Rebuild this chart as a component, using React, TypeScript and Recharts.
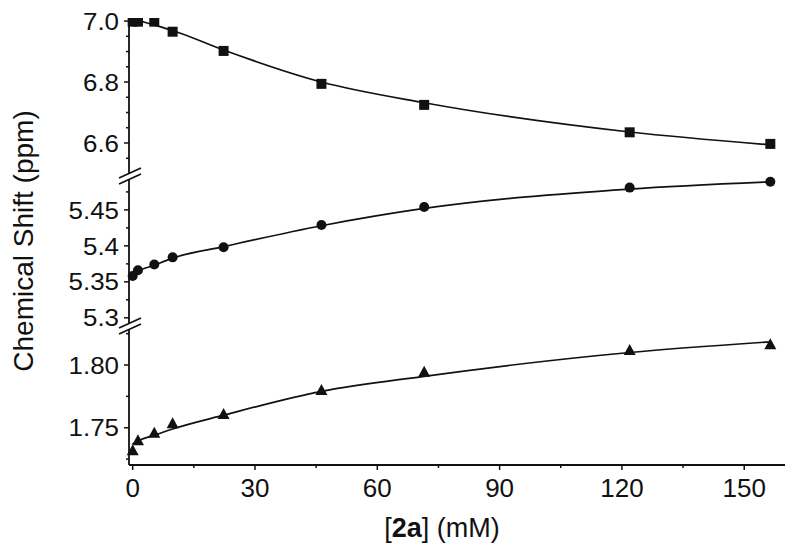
import React from 'react';
import { ComposedChart, Line, Scatter, XAxis, YAxis } from 'recharts';

// [2a] concentrations (mM)
const concentration = [0, 1.3, 5.3, 9.8, 22.3, 46.3, 71.5, 121.9, 156.4];

// observed shifts (ppm) and fitted curve read at the same concentrations
const shiftSquare = [6.998, 6.998, 6.998, 6.965, 6.902, 6.794, 6.725, 6.635, 6.597];
const fitSquare = [7.007, 7.002, 6.987, 6.969, 6.905, 6.8, 6.732, 6.636, 6.594];
const shiftCircle = [5.358, 5.366, 5.374, 5.384, 5.398, 5.429, 5.454, 5.481, 5.489];
const fitCircle = [5.356, 5.364, 5.373, 5.383, 5.399, 5.428, 5.452, 5.479, 5.489];
const shiftTriangle = [1.732, 1.74, 1.746, 1.7535, 1.761, 1.78, 1.7947, 1.812, 1.8165];
const fitTriangle = [1.737, 1.7395, 1.744, 1.749, 1.76, 1.779, 1.791, 1.81, 1.8185];

// ticks
const xTickLabels = ['0', '30', '60', '90', '120', '150'];
const xMinorTicks = [15, 45, 75, 105, 135];
const topTickLabels = ['6.6', '6.8', '7.0'];
const topMinorTicks = [6.55, 6.65, 6.7, 6.75, 6.85, 6.9, 6.95];
const midTickLabels = ['5.3', '5.35', '5.4', '5.45'];
const midMinorTicks = [5.325, 5.375, 5.425, 5.475];
const lowTickLabels = ['1.75', '1.80'];
const lowMinorTicks = [1.725, 1.775, 1.825];

const FONT = '"Liberation Sans", Arial, Helvetica, sans-serif';
const INK = '#111';
const X_DOMAIN: [number, number] = [-0.9, 160];
const PLOT_LEFT = 129;
const W = 798;

const toPoints = (ys: number[]) => concentration.map((x, i) => ({ x, y: ys[i] }));

const findLabel = (labels: string[], v: number) =>
  labels.find((l) => Math.abs(Number(l) - v) < 1e-9);

const YTick = (props: any) => {
  const { x, y, payload, labels } = props;
  const label = findLabel(labels, payload.value);
  return (
    <g>
      <line x1={x - (label ? 5 : 3)} x2={x} y1={y} y2={y} stroke={INK} strokeWidth={1.5} />
      {label && (
        <g transform={`translate(${x - 10},${y}) scale(1.08,1)`}>
          <text textAnchor="end" dy="0.36em" fontSize={24} fontFamily={FONT} fill={INK}>
            {label}
          </text>
        </g>
      )}
    </g>
  );
};

const XTick = (props: any) => {
  const { x, y, payload } = props;
  const label = findLabel(xTickLabels, payload.value);
  return (
    <g>
      <line x1={x} x2={x} y1={y} y2={y + (label ? 5 : 3)} stroke={INK} strokeWidth={1.5} />
      {label && (
        <text x={x} y={y + 31.5} textAnchor="middle" fontSize={26} fontFamily={FONT} fill={INK}>
          {label}
        </text>
      )}
    </g>
  );
};

const Square = (p: any) => <rect x={p.cx - 5} y={p.cy - 5} width={10} height={10} fill={INK} />;
const Dot = (p: any) => <circle cx={p.cx} cy={p.cy} r={5} fill={INK} />;
const Tri = (p: any) => (
  <polygon points={`${p.cx - 6},${p.cy + 5} ${p.cx + 6},${p.cy + 5} ${p.cx},${p.cy - 6}`} fill={INK} />
);

const XLabel = (props: any) => {
  const vb = props.viewBox || {};
  return (
    <text x={vb.x + vb.width / 2 - 15} y={vb.y + 72} textAnchor="middle" fontSize={27} fontFamily={FONT} fill={INK}>
      [<tspan fontWeight="bold">2a</tspan>] (mM)
    </text>
  );
};

interface PanelProps {
  height: number;
  margin: { top: number; bottom: number };
  domain: [number, number];
  labels: string[];
  minor: number[];
  points: { x: number; y: number }[];
  fit: { x: number; y: number }[];
  shape: any;
  showX?: boolean;
}

const Panel: React.FC<PanelProps> = ({ height, margin, domain, labels, minor, points, fit, shape, showX }) => (
  <div style={{ width: W, height }}>
    <ComposedChart width={W} height={height} margin={{ top: margin.top, bottom: margin.bottom, left: 0, right: 13 }}>
      {showX ? (
        <XAxis
          type="number"
          dataKey="x"
          domain={X_DOMAIN}
          ticks={[...xTickLabels.map(Number), ...xMinorTicks]}
          interval={0}
          tickSize={0}
          tickMargin={0}
          tickLine={false}
          tick={<XTick />}
          axisLine={{ stroke: INK, strokeWidth: 1.8 }}
          height={60}
          label={XLabel}
        />
      ) : (
        <XAxis type="number" dataKey="x" domain={X_DOMAIN} hide />
      )}
      <YAxis
        type="number"
        dataKey="y"
        domain={domain}
        allowDataOverflow
        ticks={[...labels.map(Number), ...minor]}
        interval={0}
        tickSize={0}
        tickMargin={0}
        tickLine={false}
        tick={<YTick labels={labels} />}
        axisLine={{ stroke: INK, strokeWidth: 1.8 }}
        width={PLOT_LEFT}
      />
      <Line data={fit} dataKey="y" type="monotone" stroke={INK} strokeWidth={1.7} dot={false} isAnimationActive={false} />
      <Scatter data={points} dataKey="y" shape={shape} isAnimationActive={false} />
    </ComposedChart>
  </div>
);

const TOP_H = 175;
const MID_H = 150;
const LOW_H = 229;

const BreakMark = ({ cx, cy }: { cx: number; cy: number }) => (
  <g>
    <polygon
      points={`${cx - 11},${cy + 2} ${cx + 11},${cy - 8} ${cx + 11},${cy - 2} ${cx - 11},${cy + 8}`}
      fill="#fff"
    />
    <line x1={cx - 11} y1={cy + 2} x2={cx + 11} y2={cy - 8} stroke={INK} strokeWidth={1.8} />
    <line x1={cx - 11} y1={cy + 8} x2={cx + 11} y2={cy - 2} stroke={INK} strokeWidth={1.8} />
  </g>
);

export default function App() {
  return (
    <div style={{ position: 'absolute', left: 0, top: 0, width: W, height: 554, background: '#fff' }}>
      <style>{'.recharts-surface{overflow:visible}'}</style>
      <Panel
        height={TOP_H}
        margin={{ top: 18, bottom: 0 }}
        domain={[6.495, 7.01]}
        labels={topTickLabels}
        minor={topMinorTicks}
        points={toPoints(shiftSquare)}
        fit={toPoints(fitSquare)}
        shape={Square}
      />
      <Panel
        height={MID_H}
        margin={{ top: 0, bottom: 0 }}
        domain={[5.29, 5.4985]}
        labels={midTickLabels}
        minor={midMinorTicks}
        points={toPoints(shiftCircle)}
        fit={toPoints(fitCircle)}
        shape={Dot}
      />
      <Panel
        height={LOW_H}
        margin={{ top: 0, bottom: 29 }}
        domain={[1.7203, 1.8319]}
        labels={lowTickLabels}
        minor={lowMinorTicks}
        points={toPoints(shiftTriangle)}
        fit={toPoints(fitTriangle)}
        shape={Tri}
        showX
      />
      <svg width={W} height={554} style={{ position: 'absolute', left: 0, top: 0, pointerEvents: 'none' }}>
        <BreakMark cx={PLOT_LEFT + 1} cy={TOP_H + 1} />
        <BreakMark cx={PLOT_LEFT + 1} cy={TOP_H + MID_H + 1} />
        <text
          transform="translate(33,241) rotate(-90)"
          textAnchor="middle"
          fontSize={28}
          fontFamily={FONT}
          fill={INK}
        >
          Chemical Shift (ppm)
        </text>
      </svg>
    </div>
  );
}
